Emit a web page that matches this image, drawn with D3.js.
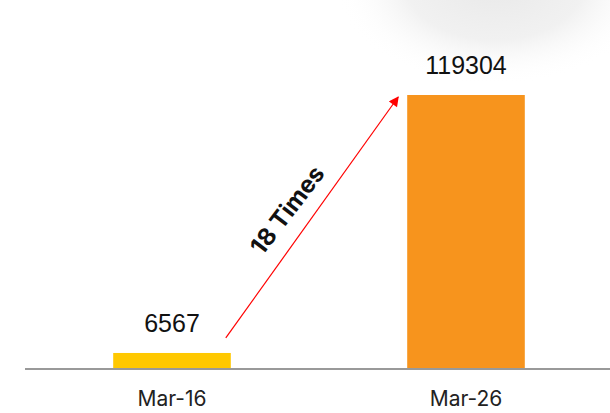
<!DOCTYPE html>
<html>
<head>
<meta charset="utf-8">
<script src="https://cdn.jsdelivr.net/npm/d3@7"></script>
<style>
body { margin: 0; background: #fff; }
</style>
</head>
<body>
<div id="chart"></div>
<script>
var categories = ["Mar-16", "Mar-26"]
var values = [6567, 119304]
var colors = ["#FFC800", "#F7941D"]
var growthLabel = "18 Times"

var width = 610, height = 413

var svg = d3.select("#chart").append("svg").attr("width", width).attr("height", height)

// faint shadow top right
var defs = svg.append("defs")
var grad = defs.append("radialGradient").attr("id", "shade")
grad.append("stop").attr("offset", "0%").attr("stop-color", "#e9e9e9")
grad.append("stop").attr("offset", "55%").attr("stop-color", "#f1f1f1")
grad.append("stop").attr("offset", "100%").attr("stop-color", "#fff").attr("stop-opacity", 0)
svg.append("ellipse").attr("cx", 495).attr("cy", -15).attr("rx", 160).attr("ry", 100).attr("fill", "url(#shade)")

var x = d3.scaleBand().domain(categories).range([25, 613]).paddingInner(0.6).paddingOuter(0.3)
var y = d3.scaleLinear().domain([0, d3.max(values)]).range([368, 95])

svg.selectAll("rect.bar").data(values).enter()
	.append("rect").attr("class", "bar")
	.attr("x", function(d, i){return x(categories[i])})
	.attr("y", function(d){return y(d)})
	.attr("width", x.bandwidth())
	.attr("height", function(d){return y(0) - y(d)})
	.attr("fill", function(d, i){return colors[i]})

// baseline
svg.append("line").attr("x1", 25).attr("x2", width).attr("y1", y(0) + 1).attr("y2", y(0) + 1)
	.attr("stroke", "#999").attr("stroke-width", 2)

// value labels
svg.selectAll("text.val").data(values).enter()
	.append("text").attr("class", "val")
	.attr("x", function(d, i){return x(categories[i]) + x.bandwidth() / 2})
	.attr("y", function(d){return y(d) - 21})
	.attr("text-anchor", "middle")
	.attr("font-family", "Liberation Sans, Arial, sans-serif")
	.attr("font-size", 25)
	.attr("fill", "#111")
	.text(function(d){return d})

// category labels
svg.selectAll("text.cat").data(categories).enter()
	.append("text").attr("class", "cat")
	.attr("x", function(d){return x(d) + x.bandwidth() / 2})
	.attr("y", 406)
	.attr("text-anchor", "middle")
	.attr("font-family", "Inter, sans-serif")
	.attr("font-size", 21)
	.attr("fill", "#222")
	.text(function(d){return d})

// arrow
defs.append("marker").attr("id", "head").attr("viewBox", "0 0 10 10")
	.attr("refX", 9).attr("refY", 5).attr("markerWidth", 12).attr("markerHeight", 10)
	.attr("markerUnits", "userSpaceOnUse").attr("orient", "auto")
	.append("path").attr("d", "M0,0L10,5L0,10Z").attr("fill", "#f00")

var x1 = x(categories[0]) + x.bandwidth() - 5, y1 = y(values[0]) - 15
var x2 = x(categories[1]) - 9, y2 = y(values[1]) + 2
svg.append("line").attr("x1", x1).attr("y1", y1).attr("x2", x2).attr("y2", y2)
	.attr("stroke", "#f00").attr("stroke-width", 1.2).attr("marker-end", "url(#head)")

var ang = Math.atan2(y2 - y1, x2 - x1) * 180 / Math.PI + 2
svg.append("text")
	.attr("transform", "translate(" + 294 + "," + 215 + ") rotate(" + ang + ")")
	.attr("text-anchor", "middle")
	.attr("font-family", "Inter, sans-serif")
	.attr("font-weight", "bold")
	.attr("font-size", 24)
	.attr("fill", "#111")
	.text(growthLabel)
</script>
</body>
</html>
